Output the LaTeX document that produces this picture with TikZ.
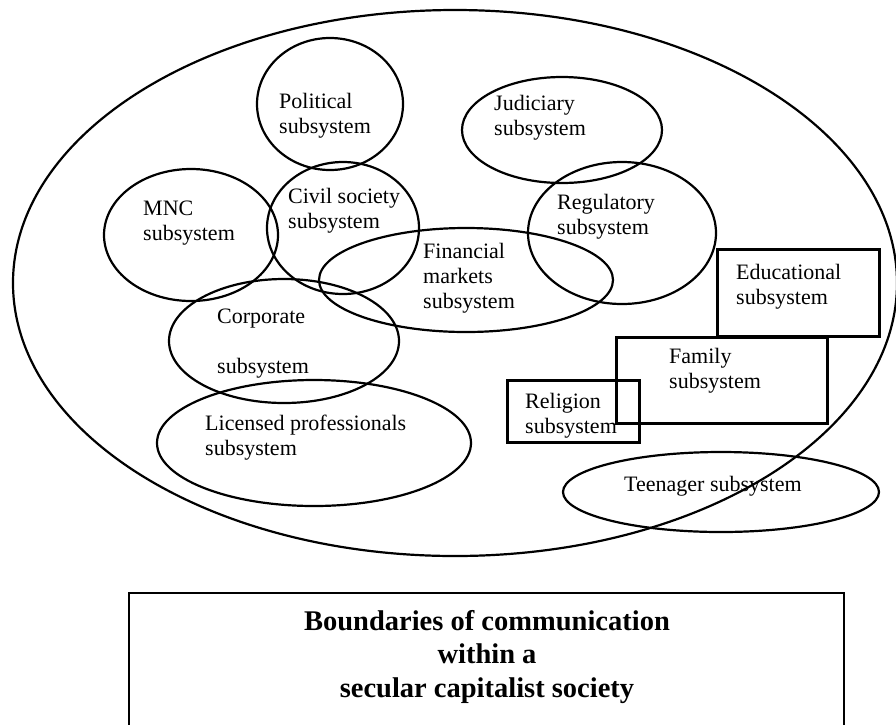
\documentclass[tikz,border=0pt]{standalone}
\usepackage{fontspec}
\setmainfont{Liberation Serif}
\usepackage{tikz}
\usetikzlibrary{positioning}

\tikzset{
    ring/.style={line width=2.2pt},
    boxsys/.style={line width=3pt},
    lbl/.style={anchor=base west, align=left, inner sep=0pt, font=\fontsize{22}{25}\selectfont},
    ttl/.style={anchor=base, align=center, inner sep=0pt, font=\fontsize{28.5}{33.5}\selectfont\bfseries}
}

\begin{document}
\begin{tikzpicture}[x=1pt, y=-1pt]
    \useasboundingbox (0,0) rectangle (896,724);

    % Draw the society boundary
    \draw [ring] (455,283) ellipse [x radius=442, y radius=273];

    % Subsystem ellipses
    \foreach \cx/\cy/\rx/\ry in {330/104/73/66, 343/228/76/66, 191/235/87/66,
        466/280/147/52, 562/130/100/53, 622/233/94/71, 284/341/115/62,
        314/443/157/63, 721/492/158/40} {
        \draw [ring] (\cx,\cy) ellipse [x radius=\rx, y radius=\ry];
    }

    % Subsystem boxes
    \draw [boxsys] (717,249) rectangle (879,336);
    \draw [boxsys] (616,337) rectangle (827,423);
    \draw [boxsys] (507,380) rectangle (639,442);

    % Labels (y is the baseline of the last line)
    \foreach \name/\x/\y/\txt in {political/279/133/{Political\\subsystem},
        civil/288/228/{Civil society\\subsystem},
        mnc/143/240/{MNC\\subsystem},
        judiciary/494/135/{Judiciary\\subsystem},
        regulatory/557/234/{Regulatory\\subsystem},
        financial/423/308/{Financial\\markets\\subsystem},
        educational/736/304/{Educational\\subsystem},
        family/669/388/{Family\\subsystem},
        religion/525/433/{Religion\\subsystem},
        teenager/624/491/{Teenager subsystem},
        corporate/217/373/{Corporate\\[25pt]subsystem},
        licensed/205/455/{Licensed professionals\\subsystem}} {
        \node [lbl] (\name) at (\x,\y) {\txt};
    }

    % Title box
    \draw [line width=2.5pt] (129,593) rectangle (844,740);
    \node [ttl] (title) at (487,697) {Boundaries of communication\\within a\\secular capitalist society};
\end{tikzpicture}
\end{document}
